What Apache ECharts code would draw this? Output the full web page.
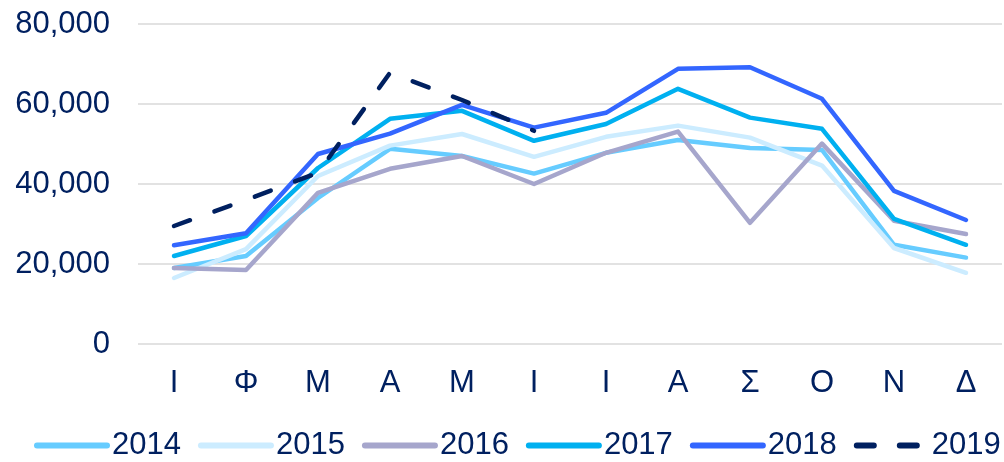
<!DOCTYPE html>
<html>
<head>
<meta charset="utf-8">
<script src="https://cdn.jsdelivr.net/npm/echarts@6/dist/echarts.min.js"></script>
<style>
html,body{margin:0;padding:0;background:#fff;}
#chart{width:1004px;height:462px;}
</style>
</head>
<body>
<div id="chart"></div>
<script>
const categories = ['Ι','Φ','Μ','Α','Μ','Ι','Ι','Α','Σ','Ο','Ν','Δ'];
const yTicks = [0, 20000, 40000, 60000, 80000];
const s2014 = [19000, 22000, 36500, 48800, 47000, 42600, 47800, 51000, 49000, 48500, 24800, 21600];
const s2015 = [16500, 23700, 42000, 49600, 52500, 46800, 51800, 54600, 51600, 44600, 24000, 17800];
const s2016 = [19000, 18500, 37800, 43800, 47000, 40000, 47800, 53100, 30300, 50100, 30800, 27500];
const s2017 = [22000, 27000, 44000, 56300, 58300, 50800, 55000, 63800, 56600, 53800, 31300, 24800];
const s2018 = [24700, 27700, 47500, 52600, 59800, 54100, 57800, 68800, 69200, 61300, 38300, 31000];
const s2019 = [29500, 36000, 42800, 67800, 61000, 53300];

const seriesDefs = [
  {name:'2014', data:s2014, color:'#66CCFF'},
  {name:'2015', data:s2015, color:'#CCECFF'},
  {name:'2016', data:s2016, color:'#A6A6CC'},
  {name:'2017', data:s2017, color:'#00B0F0'},
  {name:'2018', data:s2018, color:'#3366FF'},
  {name:'2019', data:s2019, color:'#002060', dashed:true}
];

const textColor = '#002060';
const font = "'Liberation Sans', Arial, sans-serif";

const chart = echarts.init(document.getElementById('chart'), null, {renderer:'canvas'});
chart.setOption({
  animation:false,
  backgroundColor:'#fff',
  grid:{left:138, right:2, top:24, bottom:118, containLabel:false},
  xAxis:{
    type:'category',
    data:categories,
    boundaryGap:true,
    axisLine:{show:false},
    axisTick:{show:false},
    axisLabel:{color:textColor, fontSize:31, fontFamily:font, margin:24}
  },
  yAxis:{
    type:'value',
    min:yTicks[0], max:yTicks[yTicks.length-1], interval:20000,
    axisLine:{show:false},
    axisTick:{show:false},
    splitLine:{lineStyle:{color:'#D9D9D9', width:1.5}},
    axisLabel:{color:textColor, fontSize:31, fontFamily:font, margin:28,
      formatter:v => v.toLocaleString('en-US')}
  },
  legend:{
    left:34, top:430, width:1000,
    padding:0,
    itemWidth:70, itemHeight:31, itemGap:17,
    lineStyle:{width:6},
    itemStyle:{opacity:0},
    textStyle:{color:textColor, fontSize:31, fontFamily:font, lineHeight:31},
    data:seriesDefs.map(s=>s.name)
  },
  series:seriesDefs.map(s=>({
    name:s.name,
    type:'line',
    data:s.data,
    symbol:'none',
    color:s.color,
    lineStyle:{color:s.color, width:4.5, cap:'round', join:'round',
      type: s.dashed ? [17,26] : 'solid'}
  }))
});
</script>
</body>
</html>
